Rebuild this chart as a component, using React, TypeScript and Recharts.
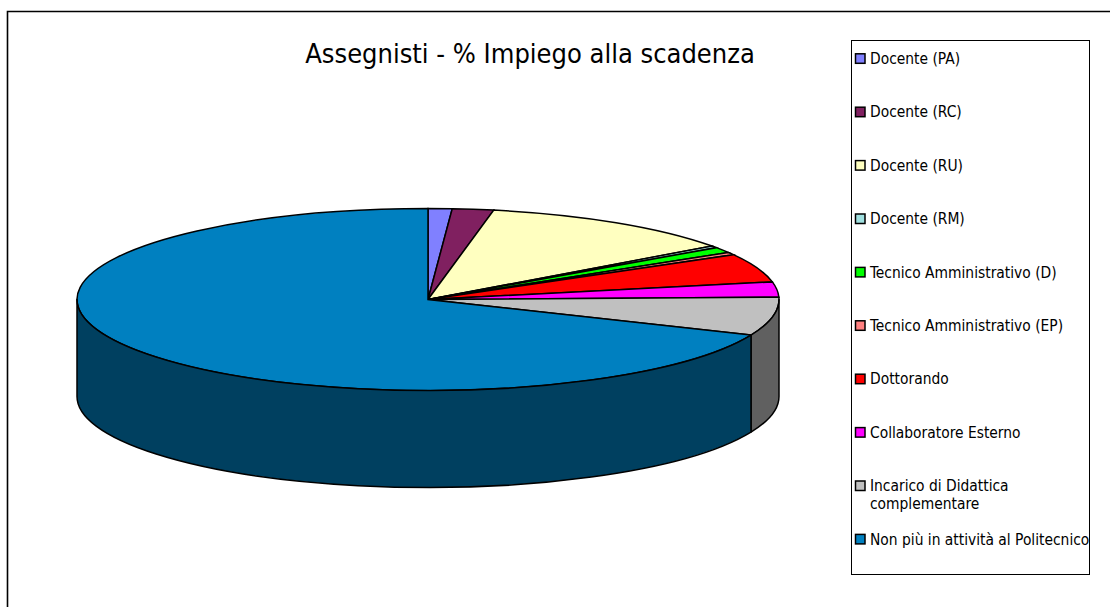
import React from 'react';
import { PieChart, Pie, Cell, Legend } from 'recharts';

const categories = [
  'Docente (PA)',
  'Docente (RC)',
  'Docente (RU)',
  'Docente (RM)',
  'Tecnico Amministrativo (D)',
  'Tecnico Amministrativo (EP)',
  'Dottorando',
  'Collaboratore Esterno',
  'Incarico di Didattica complementare',
  'Non più in attività al Politecnico',
];
const shares = [1.1, 1.9, 12.0, 0.35, 1.0, 0.45, 5.1, 2.7, 6.8, 68.6];
const topColors = ['#8080ff', '#802060', '#ffffc0', '#a0e0e0', '#00ff00', '#ff8080', '#ff0000', '#ff00ff', '#c0c0c0', '#0080c0'];
const sideColors = ['#404080', '#401030', '#808060', '#507070', '#008000', '#804040', '#800000', '#800080', '#606060', '#004060'];
const chartTitle = 'Assegnisti - % Impiego alla scadenza';

const W = 1110;
const H = 607;
const CX = 428;
const CY = 299.5;
const RX = 351;
const TILT = 91 / 351;
const DEPTH = 97;
const FONT = "'DejaVu Sans Condensed', 'DejaVu Sans', sans-serif";

const data = categories.map((name, i) => ({ name, value: shares[i] }));

const pt = (cx: number, cy: number, rx: number, ry: number, deg: number) => {
  const r = (deg * Math.PI) / 180;
  return [cx + rx * Math.cos(r), cy - ry * Math.sin(r)];
};

const renderWall = (props: any) => {
  const { cx, cy, outerRadius, startAngle, endAngle, index } = props;
  const rx = outerRadius;
  const ry = rx * TILT;
  const a = Math.max(startAngle, endAngle);
  const b = Math.min(startAngle, endAngle);
  const hi = Math.min(a, 0);
  const lo = Math.max(b, -180);
  if (hi <= lo) return <g key={`w${index}`} />;
  const [x1, y1] = pt(cx, cy, rx, ry, hi);
  const [x2, y2] = pt(cx, cy, rx, ry, lo);
  const d = `M${x1},${y1} A${rx},${ry} 0 0 1 ${x2},${y2} L${x2},${y2 + DEPTH} A${rx},${ry} 0 0 0 ${x1},${y1 + DEPTH} Z`;
  return <path key={`w${index}`} d={d} fill={sideColors[index]} stroke="#000" strokeWidth={1.5} strokeLinejoin="round" />;
};

const renderLegend = (props: any) => {
  const seen = new Set<string>();
  let items = (props.payload || [])
    .filter((p: any) => p.type !== 'none' && p.color && p.color !== 'none')
    .filter((p: any) => {
      if (seen.has(p.value)) return false;
      seen.add(p.value);
      return true;
    })
    .map((p: any) => ({ name: String(p.value), color: p.color }))
    .sort((a: any, b: any) => categories.indexOf(a.name) - categories.indexOf(b.name));
  if (items.length === 0) items = categories.map((n, i) => ({ name: n, color: topColors[i] }));
  return (
    <svg width={239} height={535} style={{ display: 'block' }}>
      <rect x={0.5} y={0.5} width={238} height={534} fill="#fff" stroke="#000" strokeWidth={1} />
      {items.map((it: any, i: number) => {
        const base = 24 + i * 53.4;
        const words = it.name === 'Incarico di Didattica complementare' ? ['Incarico di Didattica', 'complementare'] : [it.name];
        return (
          <g key={it.name}>
            <rect x={4.5} y={base - 10.2} width={9.5} height={9.5} fill={it.color} stroke="#000" strokeWidth={1.5} />
            <text x={19} y={base} fontFamily={FONT} fontSize={15.4} fill="#000">
              {words.map((w, j) => (
                <tspan key={j} x={19} dy={j === 0 ? 0 : 18}>{w}</tspan>
              ))}
            </text>
          </g>
        );
      })}
    </svg>
  );
};

export default function App() {
  return (
    <div style={{ position: 'relative', width: W, height: H, overflow: 'hidden', background: '#fff' }}>
      <style>{`
        body { margin: 0; }
        .top-face, .top-pie .recharts-sector {
          transform-box: view-box;
          transform-origin: ${CX}px ${CY}px;
          transform: scaleY(${TILT});
          vector-effect: non-scaling-stroke;
        }
      `}</style>
      <PieChart width={W} height={H} margin={{ top: 0, right: 0, bottom: 0, left: 0 }}>
        <Pie
          data={data}
          dataKey="value"
          nameKey="name"
          cx={CX}
          cy={CY}
          outerRadius={RX}
          startAngle={90}
          endAngle={-270}
          fill="none"
          stroke="none"
          label={renderWall}
          labelLine={false}
          legendType="none"
          isAnimationActive={false}
        />
        <Pie
          className="top-pie"
          data={data}
          dataKey="value"
          nameKey="name"
          cx={CX}
          cy={CY}
          outerRadius={RX}
          startAngle={90}
          endAngle={-270}
          stroke="#000"
          strokeWidth={1.5}
          isAnimationActive={false}
        >
          {data.map((d, i) => (
            <Cell key={d.name} className="top-face" fill={topColors[i]} />
          ))}
        </Pie>
        <Legend
          layout="vertical"
          align="right"
          verticalAlign="top"
          content={renderLegend}
          wrapperStyle={{ left: 851, top: 40, width: 239, height: 535 }}
        />
      </PieChart>
      <svg width={W} height={H} style={{ position: 'absolute', left: 0, top: 0, pointerEvents: 'none' }}>
        <path d={`M7.5,${H + 5} V11.5 H${W + 5}`} fill="none" stroke="#000" strokeWidth={1.6} />
        <text x={530} y={63} textAnchor="middle" fontFamily={FONT} fontSize={27} fill="#000">
          {chartTitle}
        </text>
      </svg>
    </div>
  );
}
